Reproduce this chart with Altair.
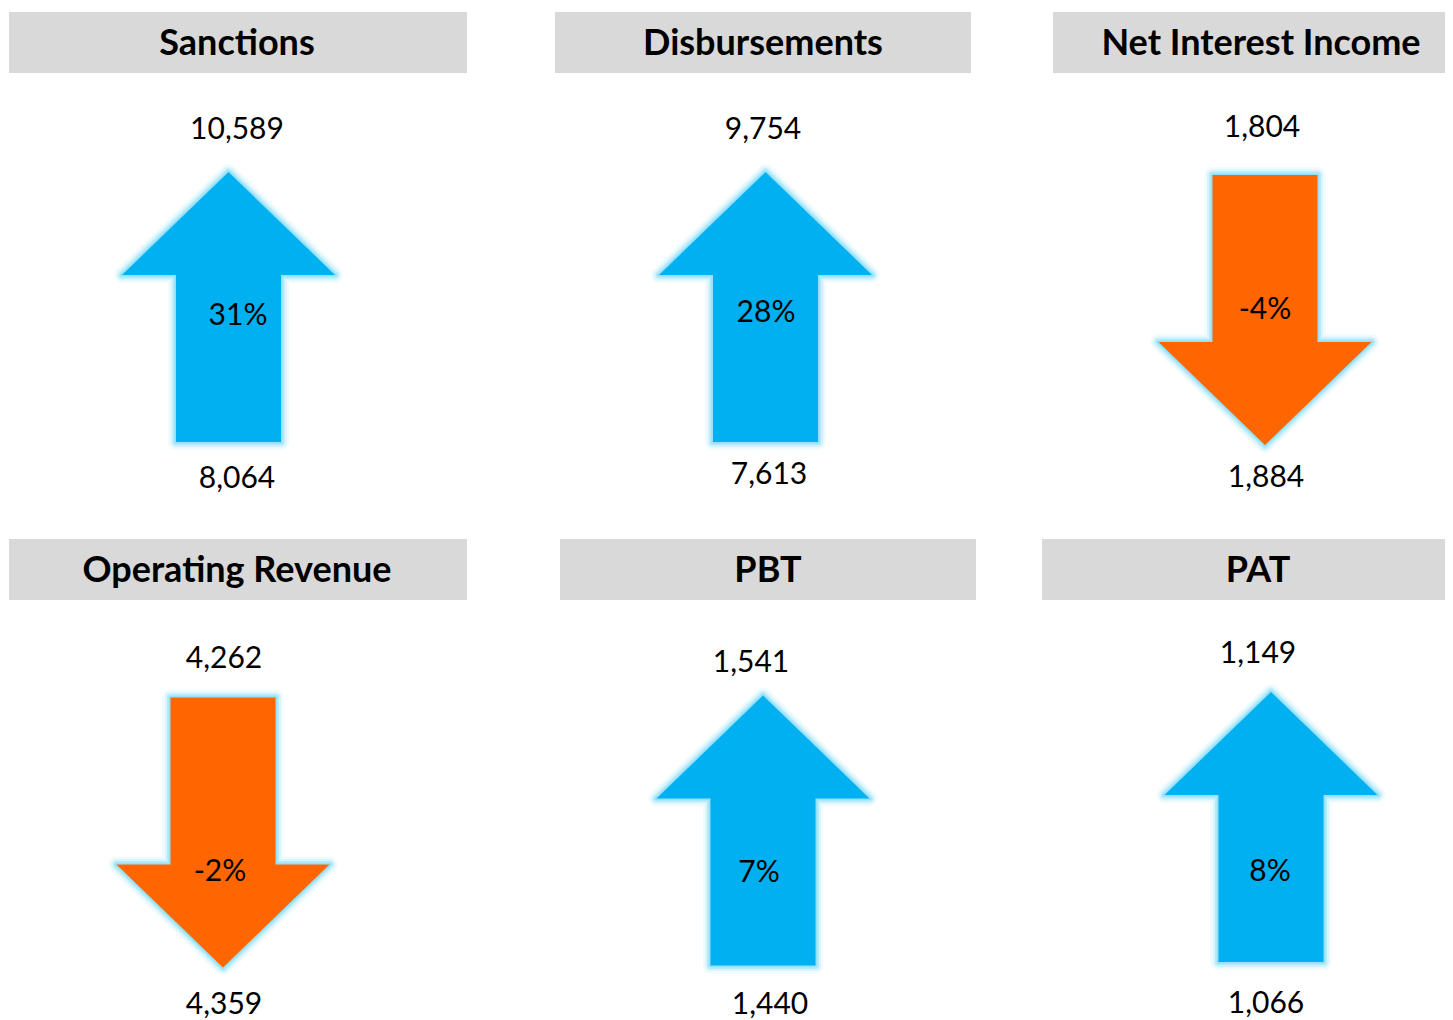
import altair as alt
import pandas as pd

# ---- data ----
titles = ["Sanctions", "Disbursements", "Net Interest Income",
          "Operating Revenue", "PBT", "PAT"]
current = [10589, 9754, 1804, 4262, 1541, 1149]
previous = [8064, 7613, 1884, 4359, 1440, 1066]
growth_pct = [31, 28, -4, -2, 7, 8]

df = pd.DataFrame({
    "metric": titles,
    "current": current,
    "previous": previous,
    "pct": growth_pct,
})
df["direction"] = ["up" if p >= 0 else "down" for p in growth_pct]
df["pct_label"] = [f"{p}%" for p in growth_pct]

# ---- styles ----
BLUE = "#00b0f0"
ORANGE = "#ff6600"
GREY = "#d9d9d9"
GLOW = "#8fdff8"
FONT = "Lato"

# arrow symbols in the unit square [-1, 1]
UP = ("M0,-1 L0.789,-0.237 L0.389,-0.237 L0.389,1 "
      "L-0.389,1 L-0.389,-0.237 L-0.789,-0.237 Z")
DOWN = ("M0,1 L0.789,0.237 L0.389,0.237 L0.389,-1 "
        "L-0.389,-1 L-0.389,0.237 L-0.789,0.237 Z")
ARROW_SIZE = 270 * 270

shape_enc = alt.Shape("direction:N",
                      scale=alt.Scale(domain=["up", "down"], range=[UP, DOWN]),
                      legend=None)
fill_enc = alt.Color("direction:N",
                     scale=alt.Scale(domain=["up", "down"], range=[BLUE, ORANGE]),
                     legend=None)

# ---- layout of each panel (pixels inside the panel) ----
layout = [
    dict(w=503, h=527, hx1=1, hx2=459, tx=229, topx=229, topy=122, ax=220.5, ay=299, px=230, py=308, bx=229, by=471),
    dict(w=501, h=527, hx1=44, hx2=460, tx=252, topx=252, topy=122, ax=254.5, ay=299, px=255, py=305, bx=258, by=467),
    dict(w=433, h=527, hx1=41, hx2=433, tx=249, topx=250, topy=120, ax=253, ay=302, px=253, py=302, bx=254, by=470),
    dict(w=505, h=483, hx1=1, hx2=459, tx=229, topx=216, topy=124, ax=215, ay=297.5, px=212, py=337, bx=216, by=470),
    dict(w=496, h=483, hx1=47, hx2=463, tx=255, topx=238, topy=128, ax=250, ay=295.5, px=246, py=338, bx=257, by=470),
    dict(w=436, h=483, hx1=33, hx2=436, tx=249, topx=249, topy=119, ax=262, ay=292, px=261, py=337, bx=257, by=469),
]


def panel(i):
    L = layout[i]
    base = alt.Chart(df).transform_filter(
        alt.FieldEqualPredicate(field="metric", equal=titles[i]))

    header = base.mark_rect(color=GREY).encode(
        x=alt.value(L["hx1"]), x2=alt.value(L["hx2"]),
        y=alt.value(4), y2=alt.value(65))
    title = base.mark_text(font=FONT, fontSize=36, fontWeight="bold",
                           color="#000000", baseline="middle").encode(
        x=alt.value(L["tx"]), y=alt.value(36), text="metric:N")
    top = base.mark_text(font=FONT, fontSize=30, color="#000000",
                         baseline="middle").encode(
        x=alt.value(L["topx"]), y=alt.value(L["topy"]),
        text=alt.Text("current:Q", format=","))

    glows = []
    for sw, op in [(16, 0.12), (11, 0.25), (7, 0.45), (3.5, 0.8)]:
        glows.append(base.mark_point(filled=False, stroke=GLOW, strokeWidth=sw,
                                     strokeOpacity=op, strokeJoin="round",
                                     size=ARROW_SIZE, opacity=1).encode(
            x=alt.value(L["ax"]), y=alt.value(L["ay"]), shape=shape_enc))
    arrow = base.mark_point(filled=True, size=ARROW_SIZE, opacity=1,
                            strokeWidth=0).encode(
        x=alt.value(L["ax"]), y=alt.value(L["ay"]), shape=shape_enc,
        color=fill_enc)

    pct = base.mark_text(font=FONT, fontSize=30, color="#000000",
                         baseline="middle").encode(
        x=alt.value(L["px"]), y=alt.value(L["py"]), text="pct_label:N")
    bottom = base.mark_text(font=FONT, fontSize=30, color="#000000",
                            baseline="middle").encode(
        x=alt.value(L["bx"]), y=alt.value(L["by"]),
        text=alt.Text("previous:Q", format=","))

    return alt.layer(header, title, top, *glows, arrow, pct, bottom).properties(
        width=L["w"], height=L["h"])


row1 = alt.hconcat(panel(0), panel(1), panel(2), spacing=0)
row2 = alt.hconcat(panel(3), panel(4), panel(5), spacing=0)

chart = alt.vconcat(row1, row2, spacing=0).properties(
    padding=0, background="white"
).configure_view(stroke=None)

chart.save("out.html", embed_options={"renderer": "svg", "actions": False})
